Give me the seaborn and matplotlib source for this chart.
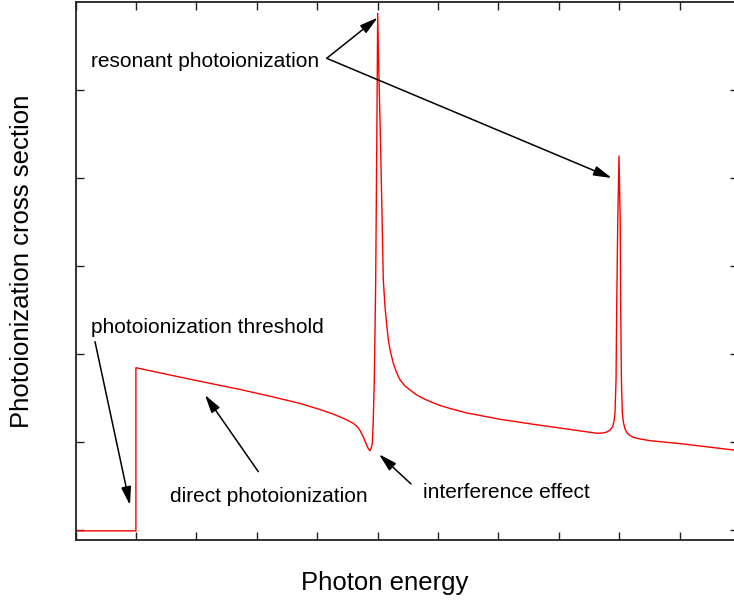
import matplotlib
matplotlib.use("Agg")
import matplotlib.pyplot as plt
import seaborn as sns
import pandas as pd

# curve (arbitrary units, 1 unit = 1 tick)
energy = [0.0, 1.0, 1.0, 1.565, 2.172, 2.724, 3.275, 3.717, 4.048, 4.263,
          4.462, 4.599, 4.661, 4.710, 4.760, 4.793, 4.826, 4.851, 4.876, 4.897,
          4.914, 4.930, 4.947, 4.959, 4.970, 4.987, 4.997, 5.003, 5.020, 5.053,
          5.096, 5.124, 5.152, 5.179, 5.215, 5.262, 5.315, 5.373, 5.455, 5.538,
          5.649, 5.758, 5.886, 6.035, 6.200, 6.477, 7.028, 7.579, 8.132, 8.629,
          8.733, 8.800, 8.849, 8.894, 8.916, 8.932, 8.949, 8.960, 8.978, 8.998,
          9.018, 9.026, 9.038, 9.053, 9.073, 9.098, 9.126, 9.180, 9.235, 9.346,
          9.512, 10.063, 10.891, 11.0]
cross_section = [-0.01, -0.01, 1.844, 1.761, 1.674, 1.597, 1.511, 1.438, 1.369, 1.318,
                 1.261, 1.212, 1.176, 1.131, 1.063, 1.011, 0.955, 0.920, 0.901, 0.932,
                 0.985, 1.250, 1.705, 2.273, 2.841, 4.318, 5.265, 5.872, 5.265, 4.318,
                 2.841, 2.538, 2.330, 2.159, 2.023, 1.894, 1.790, 1.705, 1.636, 1.591,
                 1.534, 1.494, 1.455, 1.415, 1.381, 1.330, 1.258, 1.201, 1.148, 1.099,
                 1.102, 1.114, 1.136, 1.174, 1.239, 1.330, 1.705, 2.538, 3.523, 4.250,
                 3.523, 2.538, 1.705, 1.330, 1.216, 1.148, 1.108, 1.074, 1.053, 1.034,
                 1.015, 0.977, 0.909, 0.900]

df = pd.DataFrame({'energy': energy, 'sigma': cross_section})

sns.set_style('white')
plt.rcParams['font.family'] = ['Liberation Sans', 'DejaVu Sans']
plt.rcParams['text.color'] = 'black'
plt.rcParams['axes.labelcolor'] = 'black'

fig = plt.figure(figsize=(7.34, 6.05), dpi=100)
ax = fig.add_axes([75.5 / 734, 65 / 605, 662 / 734, 538 / 605])

sns.lineplot(data=df, x='energy', y='sigma', estimator=None, sort=False,
             color='#ff0000', linewidth=1.0, ax=ax)

ax.set_xlim(0, 10.96)
ax.set_ylim(-0.114, 6.0)
ax.set_xticks(range(0, 11))
ax.set_yticks(range(0, 6))
ax.tick_params(direction='in', length=5.5, width=1.0, color='#222222',
               top=True, right=True, bottom=True, left=True,
               labelbottom=False, labelleft=False)
for s in ax.spines.values():
    s.set_linewidth(1.3)
    s.set_color('#222222')

ax.set_xlabel('Photon energy', fontsize=18.5)
ax.set_ylabel('Photoionization cross section', fontsize=18.5)
ax.xaxis.set_label_coords(0.4675, -0.08)
ax.xaxis.label.set_va('center')
ax.yaxis.set_label_coords(-0.081, 0.5186)
ax.yaxis.label.set_va('center')

arr = dict(arrowstyle='-|>,head_length=1.1,head_width=0.3', color='black',
           lw=1.1, mutation_scale=10, shrinkA=0, shrinkB=0)
fs = 15

ax.text(0.257, 5.265, 'resonant photoionization', fontsize=fs, va='baseline')
ax.annotate('', xy=(energy[27], cross_section[27] - 0.05), xytext=(4.159, 5.36),
            arrowprops=arr)
ax.annotate('', xy=(energy[59] - 0.12, cross_section[59] - 0.25), xytext=(4.159, 5.36),
            arrowprops=arr)

ax.text(0.257, 2.242, 'photoionization threshold', fontsize=fs, va='baseline')
ax.annotate('', xy=(0.902, 0.284), xytext=(0.323, 2.14), arrowprops=arr)

ax.text(1.565, 0.322, 'direct photoionization', fontsize=fs, va='baseline')
ax.annotate('', xy=(2.144, 1.534), xytext=(3.026, 0.663), arrowprops=arr)

ax.text(5.753, 0.36, 'interference effect', fontsize=fs, va='baseline')
ax.annotate('', xy=(5.025, 0.86), xytext=(5.555, 0.523), arrowprops=arr)

fig.savefig('out.png', dpi=100)
